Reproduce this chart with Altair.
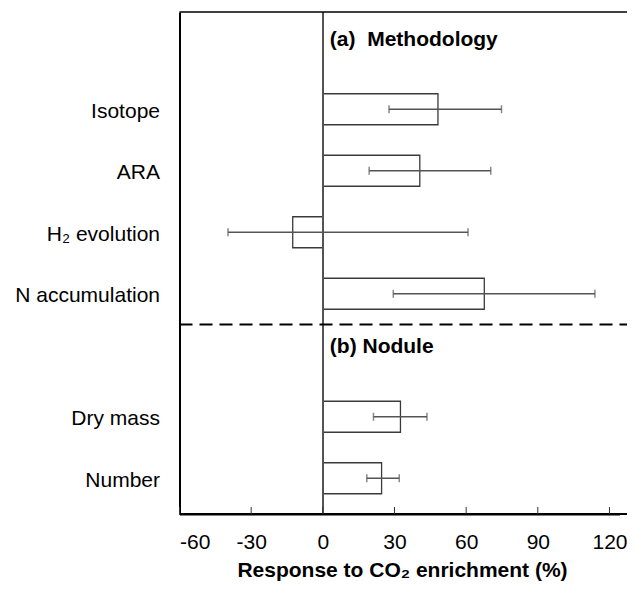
import altair as alt
import pandas as pd

# ---- data ----
categories = ["Isotope", "ARA", "H₂ evolution", "N accumulation", "Dry mass", "Number"]
row_index = [1, 2, 3, 4, 6, 7]
means = [48.2, 40.6, -12.6, 67.6, 32.5, 24.6]
ci_low = [27.7, 19.4, -39.7, 29.5, 21.2, 18.4]
ci_high = [74.8, 70.3, 60.8, 113.9, 43.6, 32.0]
panel_titles = ["(a)\u00a0 Methodology", "(b) Nodule"]
panel_index = [0, 5]
separator_index = [4.5]
x_ticks = [-60, -30, 0, 30, 60, 90, 120]

W, H = 440, 502
PAD_R = 7.5
FONT = "Liberation Sans"

df = pd.DataFrame({"cat": categories, "pos": row_index, "mean": means,
                   "lo": ci_low, "hi": ci_high})
titles_df = pd.DataFrame({"title": panel_titles, "pos": panel_index})
sep_df = pd.DataFrame({"pos": separator_index})
ticks_df = pd.DataFrame({"t": x_ticks})

label_expr = " : ".join(
    f"datum.value == {p} ? '{c}'" for p, c in zip(row_index, categories)
) + " : ''"

xscale = alt.Scale(domain=[-60, 124.2], nice=False, zero=False)
yscale = alt.Scale(domain=[-0.5, 7.5], reverse=True, nice=False, zero=False)

x_axis = alt.Axis(values=x_ticks, labelExpr="'' + datum.value", ticks=False, grid=False,
                  domain=True, domainColor="black", domainWidth=2, labelFontSize=21,
                  labelFont=FONT, labelColor="black", labelPadding=34,
                  labelBaseline="alphabetic",
                  title="Response to CO₂ enrichment (%)", titleFont=FONT,
                  titleFontSize=21, titleFontWeight="bold", titleColor="black",
                  titleX=222.5, titleY=62, titleBaseline="alphabetic",
                  titleAnchor="middle")
y_axis = alt.Axis(values=row_index, labelExpr=label_expr, ticks=False, grid=False,
                  domain=True, domainColor="black", domainWidth=2, labelFontSize=21,
                  labelFont=FONT, labelColor="black", labelPadding=20,
                  labelBaseline="alphabetic", labelOffset=8, title=None)

base = alt.Chart(df)

bars = base.mark_bar(orient="horizontal", size=31, fill="white", stroke="#3a3a3a",
                     strokeWidth=1.3).encode(
    x=alt.X("mean:Q", scale=xscale, axis=x_axis),
    x2=alt.datum(0),
    y=alt.Y("pos:Q", scale=yscale, axis=y_axis),
)

zero_line = alt.Chart(ticks_df).mark_rule(color="#555555", strokeWidth=1.5).encode(
    x=alt.datum(0), y=alt.value(0), y2=alt.value(H)
)

err = base.mark_rule(color="#555555", strokeWidth=1.5).encode(
    x="lo:Q", x2="hi:Q", y="pos:Q"
)
cap_lo = base.mark_tick(orient="vertical", size=8, thickness=1.5, color="#555555").encode(
    x="lo:Q", y="pos:Q"
)
cap_hi = base.mark_tick(orient="vertical", size=8, thickness=1.5, color="#555555").encode(
    x="hi:Q", y="pos:Q"
)

sep = alt.Chart(sep_df).mark_rule(color="black", strokeWidth=2, strokeDash=[13, 7]).encode(
    y="pos:Q", x=alt.value(0), x2=alt.value(W + PAD_R)
)

top_border = alt.Chart(sep_df).mark_rule(color="black", strokeWidth=1.5).encode(
    y=alt.value(0), x=alt.value(0), x2=alt.value(W + PAD_R)
)

bottom_border = alt.Chart(sep_df).mark_rule(color="black", strokeWidth=2).encode(
    y=alt.value(H), x=alt.value(0), x2=alt.value(W + PAD_R)
)

inner_ticks = alt.Chart(ticks_df).mark_rule(color="#333333", strokeWidth=1).encode(
    x="t:Q", y=alt.value(H - 7), y2=alt.value(H)
)

titles = alt.Chart(titles_df).mark_text(align="left", baseline="alphabetic", dx=7, dy=-2,
                                        font=FONT, fontSize=21, fontWeight="bold",
                                        color="black").encode(
    x=alt.datum(0), y="pos:Q", text="title:N"
)

chart = alt.layer(bars, zero_line, err, cap_lo, cap_hi, sep, top_border, bottom_border,
                  inner_ticks, titles).properties(
    width=W, height=H,
    autosize=alt.AutoSizeParams(type="none"),
    padding={"left": 171.5, "top": 4, "right": PAD_R, "bottom": 69},
).configure_view(stroke=None)

chart.save("out.html", embed_options={"renderer": "svg", "actions": False})
